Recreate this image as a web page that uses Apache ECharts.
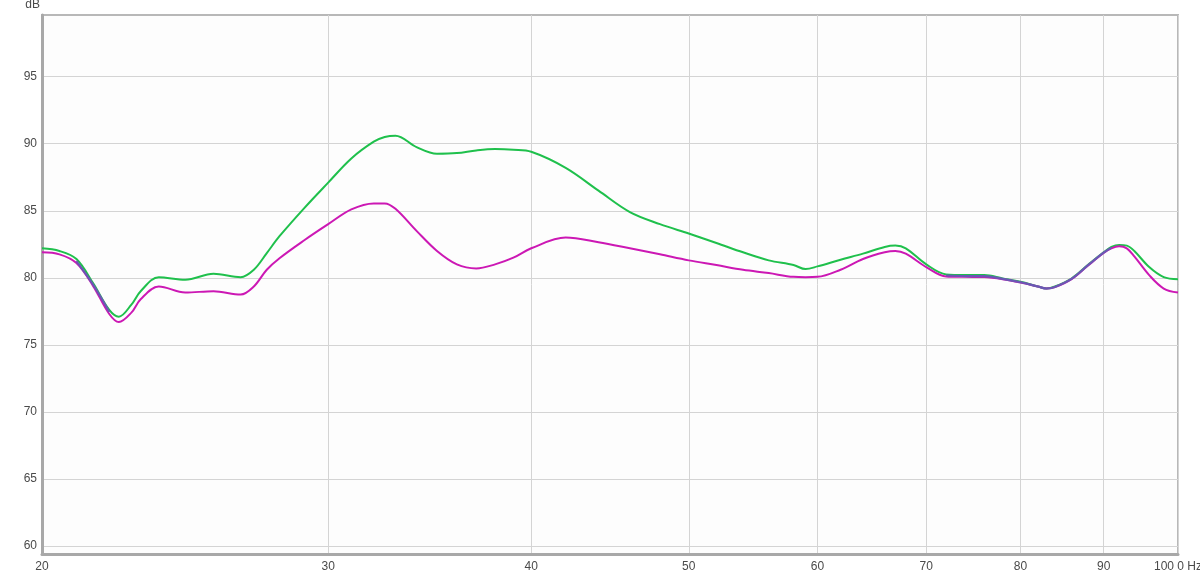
<!DOCTYPE html>
<html>
<head>
<meta charset="utf-8">
<script src="https://cdn.jsdelivr.net/npm/echarts@6/dist/echarts.min.js"></script>
<style>
html,body{margin:0;padding:0;background:#ffffff;}
#chart{width:1200px;height:576px;}
</style>
</head>
<body>
<div id="chart"></div>
<script>
// Frequencies (Hz)
var freqs = [20, 20.5, 21, 21.5, 22, 22.3, 22.7, 23, 23.6, 24.5, 25.5, 26.5, 27, 27.5, 28, 29, 30, 31, 32, 32.5, 33, 34, 35, 36, 37, 38, 39, 40, 42, 44, 46, 48, 50, 52, 54, 56, 58, 59, 60, 62, 64, 66, 67, 68, 70, 72, 74, 76, 78, 80, 82, 83, 84, 86, 88, 90, 91, 92, 93, 94, 96, 98, 100];
// Green trace (dB)
var greenDb = [82.2, 82.0, 81.4, 79.6, 77.6, 77.1, 78.0, 79.0, 80.05, 79.85, 80.3, 80.05, 80.6, 81.84, 83.1, 85.2, 87.1, 88.9, 90.15, 90.5, 90.6, 89.75, 89.25, 89.3, 89.5, 89.6, 89.55, 89.4, 88.2, 86.5, 84.9, 84.0, 83.3, 82.6, 81.9, 81.3, 80.95, 80.65, 80.85, 81.35, 81.8, 82.3, 82.4, 82.2, 81.0, 80.25, 80.2, 80.2, 79.95, 79.7, 79.35, 79.2, 79.35, 79.95, 80.95, 81.9, 82.3, 82.45, 82.4, 82.0, 80.8, 80.05, 79.9];
// Magenta trace (dB)
var magentaDb = [81.9, 81.75, 81.1, 79.4, 77.3, 76.7, 77.4, 78.4, 79.35, 78.9, 79.0, 78.75, 79.35, 80.6, 81.46, 82.8, 84.0, 85.1, 85.55, 85.55, 85.15, 83.5, 82.0, 81.0, 80.7, 81.0, 81.5, 82.2, 83.0, 82.65, 82.2, 81.75, 81.3, 80.95, 80.6, 80.35, 80.07, 80.05, 80.07, 80.6, 81.4, 81.9, 82.0, 81.8, 80.8, 80.1, 80.07, 80.05, 79.9, 79.65, 79.35, 79.2, 79.3, 79.9, 80.9, 81.85, 82.2, 82.35, 82.2, 81.6, 80.2, 79.2, 78.9];
// Where the two traces coincide (drawn blended)
var overlapDb = [null, null, 81.25, 79.5, 77.45, null, null, null, null, null, null, null, null, null, null, null, null, null, null, null, null, null, null, null, null, null, null, null, null, null, null, null, null, null, null, null, null, null, null, null, null, null, null, null, null, 80.17, 80.13, 80.12, 79.92, 79.67, 79.35, 79.2, 79.32, 79.92, 80.92, 81.87, 82.25, null, null, null, null, null, null];
var xTicks = [20, 30, 40, 50, 60, 70, 80, 90, 100];
var xTickLabels = ['20', '30', '40', '50', '60', '70', '80', '90', '100 0 Hz'];
var yTicks = [60, 65, 70, 75, 80, 85, 90, 95];

function pairs(vals) {
  return freqs.map(function (f, i) { return [f, vals[i]]; });
}

var chart = echarts.init(document.getElementById('chart'));
var labelStyle = { color: '#4a4a4a', fontSize: 12, fontFamily: 'Liberation Sans, Arial, sans-serif' };
chart.setOption({
  animation: false,
  backgroundColor: '#ffffff',
  grid: { left: 42, right: 22, top: 15, bottom: 22, outerBoundsMode: 'none', containLabel: false, show: true, backgroundColor: '#fdfdfd', borderColor: '#b8b8b8', borderWidth: 2 },
  xAxis: {
    type: 'log', logBase: 10, min: 20, max: 100,
    axisLine: { show: true, lineStyle: { color: '#a8a8a8', width: 3 } },
    axisTick: { show: false, customValues: xTicks },
    axisLabel: Object.assign({ customValues: xTicks, margin: 7, hideOverlap: false, formatter: function (v) { var i = xTicks.indexOf(Math.round(v)); return i >= 0 ? xTickLabels[i] : ''; } }, labelStyle),
    splitLine: { show: true, lineStyle: { color: '#d4d4d4', width: 1 } }
  },
  yAxis: {
    type: 'value', min: 59.4, max: 99.6,
    name: 'dB', nameLocation: 'end', nameGap: 4,
    nameTextStyle: { color: '#4a4a4a', fontSize: 12, fontFamily: 'Liberation Sans, Arial, sans-serif', align: 'right', padding: [0, 2, 0, 0] },
    axisLine: { show: true, lineStyle: { color: '#a8a8a8', width: 3 } },
    axisTick: { show: false, customValues: yTicks },
    axisLabel: Object.assign({ customValues: yTicks, margin: 5 }, labelStyle),
    splitLine: { show: true, lineStyle: { color: '#d4d4d4', width: 1 } }
  },
  series: [
    { name: 'green', type: 'line', data: pairs(greenDb), smooth: 0.35, showSymbol: false, lineStyle: { color: '#1fc04c', width: 2 }, z: 3 },
    { name: 'magenta', type: 'line', data: pairs(magentaDb), smooth: 0.35, showSymbol: false, lineStyle: { color: '#cc18b4', width: 2 }, z: 4 },
    { name: 'overlap', type: 'line', data: pairs(overlapDb), smooth: 0.35, showSymbol: false, connectNulls: false, lineStyle: { color: '#6a58b4', width: 2.2 }, z: 5 }
  ]
});
</script>
</body>
</html>
